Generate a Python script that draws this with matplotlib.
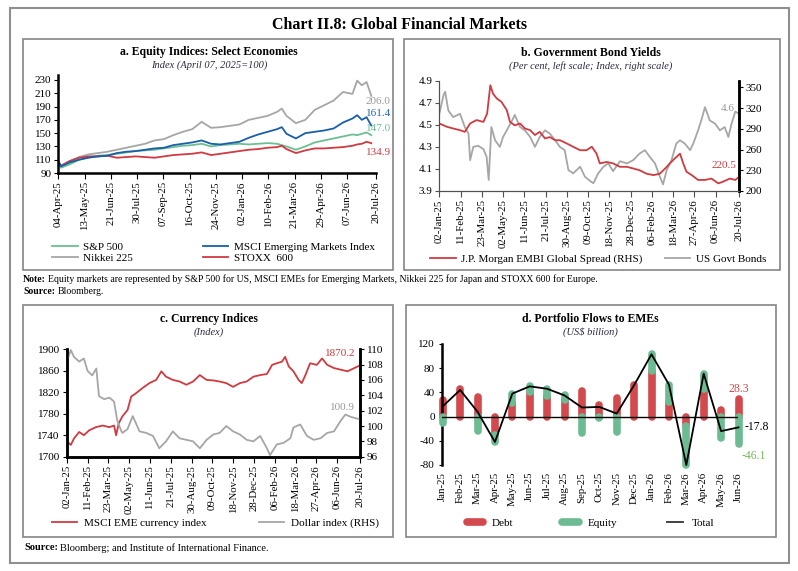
import pandas as pd
import matplotlib.pyplot as plt
from matplotlib.patches import Rectangle
from matplotlib.lines import Line2D
from matplotlib.ticker import FormatStrFormatter

plt.rcParams['font.family'] = ['Liberation Serif', 'DejaVu Serif']
plt.rcParams['axes.unicode_minus'] = False

W, H = 798, 571

RED = '#D03A40'
GREY = '#A6A6A6'
BLUE = '#1A5EAB'
GREEN = '#6CBF92'
BAR_RED = '#D24A4E'
BAR_GREEN = '#6DBB93'

# -----------------------
# a. Equity indices (April 07, 2025 = 100)
# -----------------------
eq_dates = ['2025-04-04', '2025-04-08', '2025-04-21', '2025-05-05', '2025-05-19', '2025-06-02',
            '2025-06-16', '2025-06-30', '2025-07-14', '2025-07-28', '2025-08-11', '2025-08-25',
            '2025-09-08', '2025-09-22', '2025-10-06', '2025-10-20', '2025-11-03', '2025-11-17',
            '2025-12-01', '2025-12-15', '2025-12-29', '2026-01-12', '2026-01-26', '2026-02-09',
            '2026-02-23', '2026-03-02', '2026-03-09', '2026-03-23', '2026-04-06', '2026-04-20',
            '2026-05-04', '2026-05-18', '2026-06-01', '2026-06-15', '2026-06-22', '2026-06-29',
            '2026-07-06', '2026-07-13']
nikkei = [108, 100, 108, 114, 118, 120, 122, 125, 128, 131, 134, 139, 141, 147, 152, 156, 167, 158,
          159, 161, 163, 170, 173, 176, 182, 187, 176, 165, 170, 185, 192, 199, 212, 209, 229, 222,
          227, 206.0]
msci_em = [108, 100, 106, 110, 113, 115, 116, 120, 122, 123, 125, 127, 128, 132, 134, 136, 139, 134,
           133, 135, 137, 143, 148, 152, 156, 159, 149, 142, 150, 152, 154, 157, 166, 172, 177, 170,
           174, 161.4]
sp500 = [105, 98, 103, 110, 114, 116, 117, 119, 121, 123, 124, 125, 127, 129, 131, 132, 134, 130,
         132, 133, 134, 133, 134, 135, 134, 132, 130, 125, 130, 136, 139, 142, 145, 148, 147, 149,
         151, 147.0]
stoxx = [107, 101, 108, 113, 115, 115, 116, 113, 114, 115, 114, 113, 115, 117, 118, 119, 121, 117,
         119, 121, 123, 125, 126, 128, 129, 131, 126, 120, 124, 127, 127, 128, 129, 131, 133, 134,
         137, 134.9]
eq_ticks = ['04-Apr-25', '13-May-25', '21-Jun-25', '30-Jul-25', '07-Sep-25', '16-Oct-25', '24-Nov-25',
            '02-Jan-26', '10-Feb-26', '21-Mar-26', '29-Apr-26', '07-Jun-26', '20-Jul-26']

# -----------------------
# b. Government bond yields
# -----------------------
ust_dates = ['2025-01-02', '2025-01-10', '2025-01-13', '2025-01-19', '2025-01-28', '2025-02-10',
             '2025-02-19', '2025-02-26', '2025-03-01', '2025-03-07', '2025-03-16', '2025-03-26',
             '2025-04-01', '2025-04-05', '2025-04-10', '2025-04-17', '2025-04-26', '2025-05-02',
             '2025-05-09', '2025-05-18', '2025-05-24', '2025-06-03', '2025-06-12', '2025-06-22',
             '2025-07-01', '2025-07-10', '2025-07-20', '2025-07-29', '2025-08-08', '2025-08-17',
             '2025-08-26', '2025-09-02', '2025-09-11', '2025-09-24', '2025-10-03', '2025-10-13',
             '2025-10-19', '2025-10-28', '2025-11-07', '2025-11-16', '2025-11-25', '2025-12-08',
             '2025-12-21', '2026-01-02', '2026-01-14', '2026-01-24', '2026-02-02', '2026-02-12',
             '2026-02-21', '2026-02-27', '2026-03-06', '2026-03-15', '2026-03-24', '2026-03-31',
             '2026-04-09', '2026-04-19', '2026-04-25', '2026-05-04', '2026-05-10', '2026-05-17',
             '2026-05-26', '2026-06-05', '2026-06-14', '2026-06-23', '2026-06-30', '2026-07-06',
             '2026-07-13', '2026-07-20']
ust_yield = [4.60, 4.77, 4.80, 4.63, 4.57, 4.60, 4.48, 4.42, 4.18, 4.30, 4.31, 4.28,
             4.21, 4.00, 4.48, 4.36, 4.30, 4.39, 4.45, 4.53, 4.59, 4.48, 4.45, 4.39,
             4.30, 4.39, 4.45, 4.42, 4.36, 4.30, 4.27, 4.09, 4.06, 4.12, 4.03, 3.99,
             3.97, 4.06, 4.12, 4.15, 4.08, 4.17, 4.15, 4.18, 4.24, 4.27, 4.21, 4.15,
             4.03, 3.96, 4.09, 4.18, 4.33, 4.36, 4.33, 4.27, 4.33, 4.45, 4.54, 4.66,
             4.54, 4.51, 4.45, 4.48, 4.39, 4.51, 4.62, 4.60]
embi_dates = ['2025-01-02', '2025-01-16', '2025-01-28', '2025-02-10', '2025-02-19', '2025-03-01',
              '2025-03-13', '2025-03-26', '2025-04-02', '2025-04-08', '2025-04-13', '2025-04-20',
              '2025-04-29', '2025-05-09', '2025-05-15', '2025-05-24', '2025-06-03', '2025-06-12',
              '2025-06-22', '2025-07-01', '2025-07-10', '2025-07-20', '2025-07-29', '2025-08-08',
              '2025-08-17', '2025-08-30', '2025-09-11', '2025-09-24', '2025-10-06', '2025-10-16',
              '2025-10-25', '2025-10-31', '2025-11-13', '2025-11-25', '2025-12-08', '2025-12-21',
              '2026-01-02', '2026-01-14', '2026-01-27', '2026-02-09', '2026-02-21', '2026-03-03',
              '2026-03-12', '2026-03-21', '2026-03-31', '2026-04-06', '2026-04-12', '2026-04-22',
              '2026-05-04', '2026-05-17', '2026-05-29', '2026-06-11', '2026-06-20', '2026-07-03',
              '2026-07-13', '2026-07-20']
embi_spread = [297.7, 293, 290.5, 288, 285.6, 297.7, 302.6, 300, 312, 353, 341, 334,
               329, 317, 300, 295, 297.7, 290.5, 288, 281, 285.6, 276, 278, 273.5,
               273.5, 268.7, 264, 259, 259, 264, 254, 240, 242, 240, 235, 235,
               232.6, 230, 225, 223, 225, 232.6, 240, 247, 254, 240, 228, 223,
               216, 216, 218, 211, 213.5, 218, 216, 220.5]
bc_ticks = ['02-Jan-25', '11-Feb-25', '23-Mar-25', '02-May-25', '11-Jun-25', '21-Jul-25', '30-Aug-25',
            '09-Oct-25', '18-Nov-25', '28-Dec-25', '06-Feb-26', '18-Mar-26', '27-Apr-26', '06-Jun-26',
            '20-Jul-26']

# -----------------------
# c. Currency indices
# -----------------------
eme_dates = ['2025-01-03', '2025-01-10', '2025-01-16', '2025-01-26', '2025-02-04', '2025-02-14',
             '2025-02-27', '2025-03-12', '2025-03-25', '2025-04-03', '2025-04-07', '2025-04-12',
             '2025-04-19', '2025-04-29', '2025-05-06', '2025-05-15', '2025-05-28', '2025-06-10',
             '2025-06-23', '2025-07-03', '2025-07-12', '2025-07-25', '2025-08-07', '2025-08-20',
             '2025-09-02', '2025-09-15', '2025-09-28', '2025-10-11', '2025-10-23', '2025-11-05',
             '2025-11-18', '2025-12-01', '2025-12-14', '2025-12-27', '2026-01-09', '2026-01-22',
             '2026-02-01', '2026-02-10', '2026-02-20', '2026-02-26', '2026-03-05', '2026-03-14',
             '2026-03-24', '2026-03-30', '2026-04-06', '2026-04-15', '2026-04-28', '2026-05-08',
             '2026-05-18', '2026-05-31', '2026-06-13', '2026-06-26', '2026-07-09', '2026-07-20']
eme_fx = [1728, 1722, 1734, 1746, 1740, 1749, 1755, 1758, 1755, 1758, 1740, 1762,
          1775, 1787, 1812, 1818, 1828, 1837, 1843, 1859, 1849, 1843, 1840, 1834,
          1840, 1852, 1843, 1842, 1840, 1837, 1830, 1837, 1840, 1849, 1852, 1854,
          1871, 1874, 1877, 1886, 1868, 1859, 1843, 1837, 1852, 1874, 1871, 1883,
          1871, 1865, 1862, 1859, 1865, 1870.2]
dxy_dates = ['2025-01-03', '2025-01-10', '2025-01-16', '2025-01-26', '2025-02-04', '2025-02-11',
             '2025-02-20', '2025-02-28', '2025-03-05', '2025-03-15', '2025-03-25', '2025-04-03',
             '2025-04-09', '2025-04-16', '2025-04-19', '2025-04-29', '2025-05-09', '2025-05-22',
             '2025-06-04', '2025-06-17', '2025-06-29', '2025-07-12', '2025-07-25', '2025-08-07',
             '2025-08-20', '2025-09-02', '2025-09-15', '2025-09-28', '2025-10-11', '2025-10-23',
             '2025-11-05', '2025-11-18', '2025-12-01', '2025-12-14', '2025-12-27', '2026-01-09',
             '2026-01-22', '2026-01-28', '2026-02-10', '2026-02-23', '2026-03-08', '2026-03-14',
             '2026-03-27', '2026-04-09', '2026-04-22', '2026-05-05', '2026-05-18', '2026-05-31',
             '2026-06-13', '2026-06-22', '2026-07-02', '2026-07-12', '2026-07-20']
dxy = [108.6, 109.9, 109.0, 108.4, 108.8, 107.2, 106.6, 107.5, 103.9, 103.5, 103.7, 103.2,
       100.8, 99.5, 99.1, 99.6, 101.3, 99.3, 99.1, 98.7, 97.1, 98.0, 99.3, 98.4,
       98.2, 98.0, 97.1, 98.2, 98.9, 99.1, 100.0, 99.3, 98.9, 98.2, 98.0, 98.7,
       97.1, 96.2, 97.6, 97.8, 98.4, 99.8, 100.2, 98.7, 98.2, 98.4, 99.1, 99.3,
       100.7, 101.5, 101.2, 101.0, 100.9]

# -----------------------
# d. Portfolio flows to EMEs (US$ billion)
# -----------------------
months = ['Jan-25', 'Feb-25', 'Mar-25', 'Apr-25', 'May-25', 'Jun-25', 'Jul-25', 'Aug-25', 'Sep-25',
          'Oct-25', 'Nov-25', 'Dec-25', 'Jan-26', 'Feb-26', 'Mar-26', 'Apr-26', 'May-26', 'Jun-26']
debt = [27, 45, 32, -30, 23, 40, 34, 28, 42, 19, 30, 53, 76, 24, -15, 46, 11, 28.3]
equity = [-10, -1, -24, -12, 15, 10, 12, 7, -27, -3, -25, -1, 27, 29, -65, 25, -35, -46.1]
total = [17, 44, 8, -42, 38, 50, 46, 35, 15, 16, 5, 52, 103, 53, -80, 71, -24, -17.8]


fig = plt.figure(figsize=(W / 100, H / 100), dpi=100)


def axes_px(x0, y0, x1, y1):
    return fig.add_axes([x0 / W, 1 - y1 / H, (x1 - x0) / W, (y1 - y0) / H])


def box(x0, y0, x1, y1, lw=1.2, color='#858585'):
    fig.add_artist(Rectangle((x0 / W, 1 - y1 / H), (x1 - x0) / W, (y1 - y0) / H,
                             transform=fig.transFigure, fill=False, lw=lw, ec=color))


def ftext(x, y, s, **kw):
    return fig.text(x / W, 1 - y / H, s, **kw)


def label_line(x, y, head, rest, size):
    # bold head ("Note:", "Source:") followed by normal text
    t = ftext(x, y, head, fontsize=size, fontweight='bold', va='center', ha='left')
    fig.canvas.draw()
    bb = t.get_window_extent(renderer=fig.canvas.get_renderer())
    fig.text(bb.x1 / W + 2.5 / W, 1 - y / H, rest, fontsize=size, va='center', ha='left')


def style_date_axis(ax, ticks):
    pos = pd.to_datetime(ticks, format='%d-%b-%y')
    ax.set_xticks(pos)
    ax.set_xticklabels(ticks, rotation=90, fontsize=7.8)
    ax.set_xlim(pos[0], pos[-1])


# frames and headings
box(10, 8, 789, 563, lw=1.5, color='#8f8f8f')
box(23, 39, 393, 270)
box(404, 39, 780, 270)
box(23, 305, 393, 537)
box(406, 305, 776, 537)

ftext(400, 25, 'Chart II.8: Global Financial Markets', ha='center', va='center',
      fontsize=11.5, fontweight='bold')

ftext(209, 52.5, 'a. Equity Indices: Select Economies', ha='center', va='center',
      fontsize=8.5, fontweight='bold')
ftext(209, 65.5, 'Index (April 07, 2025=100)', ha='center', va='center', fontsize=7.5,
      style='italic', color='#2a2a40')
ftext(590.5, 52.5, 'b. Government Bond Yields', ha='center', va='center',
      fontsize=8.5, fontweight='bold')
ftext(590.5, 66, '(Per cent, left scale; Index, right scale)', ha='center', va='center',
      fontsize=7.5, style='italic', color='#2a2a40')
ftext(209, 319, 'c. Currency Indices', ha='center', va='center', fontsize=8.5, fontweight='bold')
ftext(209, 332.5, '(Index)', ha='center', va='center', fontsize=7.5, style='italic', color='#2a2a40')
ftext(590.5, 319, 'd. Portfolio Flows to EMEs', ha='center', va='center',
      fontsize=8.5, fontweight='bold')
ftext(590.5, 332.5, '(US$ billion)', ha='center', va='center', fontsize=7.5, style='italic',
      color='#2a2a40')

# -----------------------
# a. EQUITY
# -----------------------
ax_a = axes_px(58.3, 75, 376, 173)
xa = pd.to_datetime(eq_dates)
ax_a.plot(xa, nikkei, color=GREY, lw=1.3, label='Nikkei 225')
ax_a.plot(xa, sp500, color=GREEN, lw=1.3, label='S&P 500')
ax_a.plot(xa, stoxx, color=RED, lw=1.3, label='STOXX  600')
ax_a.plot(xa, msci_em, color=BLUE, lw=1.3, label='MSCI Emerging Markets Index')
ax_a.set_ylim(90, 237.5)
ax_a.set_yticks(range(90, 231, 20))
style_date_axis(ax_a, eq_ticks)
for sp in ['top', 'right']:
    ax_a.spines[sp].set_visible(False)
for sp in ['left', 'bottom']:
    ax_a.spines[sp].set_linewidth(1.8)
ax_a.tick_params(axis='y', labelsize=8, length=3, pad=2)
ax_a.tick_params(axis='x', length=4, pad=2)
end_a = pd.Timestamp('2026-07-05')
ax_a.text(end_a, 197, f'{nikkei[-1]:.1f}', color='#999999', fontsize=8, va='center')
ax_a.text(end_a, 179, f'{msci_em[-1]:.1f}', color='#2266BB', fontsize=8, va='center')
ax_a.text(end_a, 157.5, f'{sp500[-1]:.1f}', color='#6CBF92', fontsize=8, va='center')
ax_a.text(end_a, 121, f'{stoxx[-1]:.1f}', color=RED, fontsize=8, va='center')
h = {l.get_label(): l for l in ax_a.get_lines()}
ax_a.legend([h['S&P 500'], h['Nikkei 225'], h['MSCI Emerging Markets Index'], h['STOXX  600']],
            ['S&P 500', 'Nikkei 225', 'MSCI Emerging Markets Index', 'STOXX  600'],
            ncol=2, loc='center left', bbox_to_anchor=(52 / W, 1 - 252.5 / H),
            bbox_transform=fig.transFigure, frameon=False, fontsize=8, borderpad=0,
            borderaxespad=0, handlelength=2.3, handletextpad=0.5, columnspacing=6.3,
            labelspacing=0.15)

# -----------------------
# b. BOND YIELDS
# -----------------------
ax_b = axes_px(439.3, 80.7, 739, 191)
ax_b.plot(pd.to_datetime(ust_dates), ust_yield, color=GREY, lw=1.3)
ax_b.set_ylim(3.9, 4.9)
ax_b.set_yticks([3.9, 4.1, 4.3, 4.5, 4.7, 4.9])
ax_b.yaxis.set_major_formatter(FormatStrFormatter('%.1f'))
style_date_axis(ax_b, bc_ticks)
ax_b2 = ax_b.twinx()
ax_b2.plot(pd.to_datetime(embi_dates), embi_spread, color=RED, lw=1.3)
ax_b2.set_ylim(200, 359.6)
ax_b2.set_yticks(range(200, 351, 30))
for a in (ax_b, ax_b2):
    a.spines['top'].set_visible(False)
    a.spines['left'].set_linewidth(0.8)
    a.spines['left'].set_color('#505050')
    a.spines['bottom'].set_linewidth(0.8)
    a.spines['bottom'].set_color('#505050')
    a.spines['right'].set_linewidth(1.8)
ax_b.tick_params(axis='y', labelsize=8, length=3, pad=2, color='#505050')
ax_b.tick_params(axis='x', length=4, pad=2, color='#505050')
ax_b2.tick_params(axis='y', labelsize=8, length=3, pad=2)
ax_b.text(pd.Timestamp('2026-06-16'), 4.65, f'{ust_yield[-1]:.1f}', color='#999999', fontsize=8,
          va='center')
ax_b2.text(pd.Timestamp('2026-05-30'), 237.6, f'{embi_spread[-1]:.1f}', color=RED, fontsize=8,
           va='center')
fig.legend([Line2D([], [], color=RED, lw=1.3), Line2D([], [], color=GREY, lw=1.3)],
           ['J.P. Morgan EMBI Global Spread (RHS)', 'US Govt Bonds'],
           ncol=2, loc='center left', bbox_to_anchor=(430 / W, 1 - 259 / H),
           frameon=False, fontsize=8, borderpad=0, borderaxespad=0, handlelength=2.3,
           handletextpad=0.5, columnspacing=2.0)

# -----------------------
# c. CURRENCY
# -----------------------
ax_c = axes_px(66.7, 349.3, 360, 456.7)
ax_c.plot(pd.to_datetime(eme_dates), eme_fx, color=RED, lw=1.3)
ax_c.set_ylim(1700, 1900)
ax_c.set_yticks(range(1700, 1901, 40))
style_date_axis(ax_c, bc_ticks)
ax_c2 = ax_c.twinx()
ax_c2.plot(pd.to_datetime(dxy_dates), dxy, color=GREY, lw=1.3)
ax_c2.set_ylim(96, 110)
ax_c2.set_yticks(range(96, 111, 2))
for a in (ax_c, ax_c2):
    a.spines['top'].set_visible(False)
    for sp in ['left', 'right', 'bottom']:
        a.spines[sp].set_linewidth(1.8)
ax_c.tick_params(axis='y', labelsize=8, length=3, pad=2)
ax_c.tick_params(axis='x', length=4, pad=2)
ax_c2.tick_params(axis='y', labelsize=8, length=3, pad=2)
ax_c.text(pd.Timestamp('2026-05-14'), 1892, f'{eme_fx[-1]:.1f}', color=RED, fontsize=8, va='center')
ax_c2.text(pd.Timestamp('2026-05-24'), 102.4, f'{dxy[-1]:.1f}', color='#999999', fontsize=8,
           va='center')
fig.legend([Line2D([], [], color=RED, lw=1.3), Line2D([], [], color=GREY, lw=1.3)],
           ['MSCI EME currency index', 'Dollar index (RHS)'],
           ncol=2, loc='center left', bbox_to_anchor=(51.7 / W, 1 - 523 / H),
           frameon=False, fontsize=8, borderpad=0, borderaxespad=0, handlelength=2.3,
           handletextpad=0.6, columnspacing=4.7)

# -----------------------
# d. PORTFOLIO FLOWS
# -----------------------
ax_d = axes_px(441.7, 344, 738.5, 465)
xd = list(range(len(months)))
eq_base = [d if d * e > 0 else 0 for d, e in zip(debt, equity)]
eq_top = [b + e for b, e in zip(eq_base, equity)]
ax_d.vlines(xd, 0, debt, colors=BAR_RED, lw=5.5, capstyle='round', zorder=2, clip_on=False)
ax_d.vlines(xd, eq_base, eq_top, colors=BAR_GREEN, lw=5.5, capstyle='round', zorder=3,
            clip_on=False)
ax_d.axhline(0, color='black', lw=1, zorder=3)
ax_d.plot(xd, total, color='black', lw=1.3, zorder=4, clip_on=False)
ax_d.set_xlim(-0.06, 17)
ax_d.set_ylim(-80, 120)
ax_d.set_yticks(range(-80, 121, 40))
ax_d.set_xticks(xd)
ax_d.set_xticklabels(months, rotation=90, fontsize=7.8)
for sp in ['top', 'right', 'bottom']:
    ax_d.spines[sp].set_visible(False)
ax_d.spines['left'].set_linewidth(1.8)
ax_d.tick_params(axis='y', labelsize=8, length=2, pad=3)
ax_d.tick_params(axis='x', length=0, pad=5)
ax_d.text(17, 46, f'{debt[-1]:.1f}', color=BAR_RED, fontsize=8.5, ha='center', va='center')
ax_d.text(17.35, -16.5, f'{total[-1]:.1f}', color='black', fontsize=8.5, ha='left', va='center')
ax_d.annotate(f'{equity[-1]:.1f}', xy=(17.05, -48), xytext=(17.2, -64.5), color='#78B85A',
              fontsize=8.5, ha='left', va='center', annotation_clip=False,
              arrowprops=dict(arrowstyle='-', color='#A0A0A0', lw=0.8, shrinkA=0, shrinkB=0))
fig.legend([Line2D([], [], color=BAR_RED, lw=5.5, solid_capstyle='round'),
            Line2D([], [], color=BAR_GREEN, lw=5.5, solid_capstyle='round'),
            Line2D([], [], color='#333333', lw=1.3)],
           ['Debt', 'Equity', 'Total'],
           ncol=3, loc='center left', bbox_to_anchor=(466.5 / W, 1 - 523 / H),
           frameon=False, fontsize=8, borderpad=0, borderaxespad=0, handlelength=1.5,
           handletextpad=0.8, columnspacing=4.4)

# notes and sources
label_line(23, 279.5, 'Note:', 'Equity markets are represented by S&P 500 for US, MSCI EMEs for '
           'Emerging Markets, Nikkei 225 for Japan and STOXX 600 for Europe.', 7)
label_line(23, 291.5, 'Source:', 'Bloomberg.', 7)
label_line(24, 548, 'Source:', 'Bloomberg; and Institute of International Finance.', 7.5)

fig.savefig('out.png', dpi=100)
